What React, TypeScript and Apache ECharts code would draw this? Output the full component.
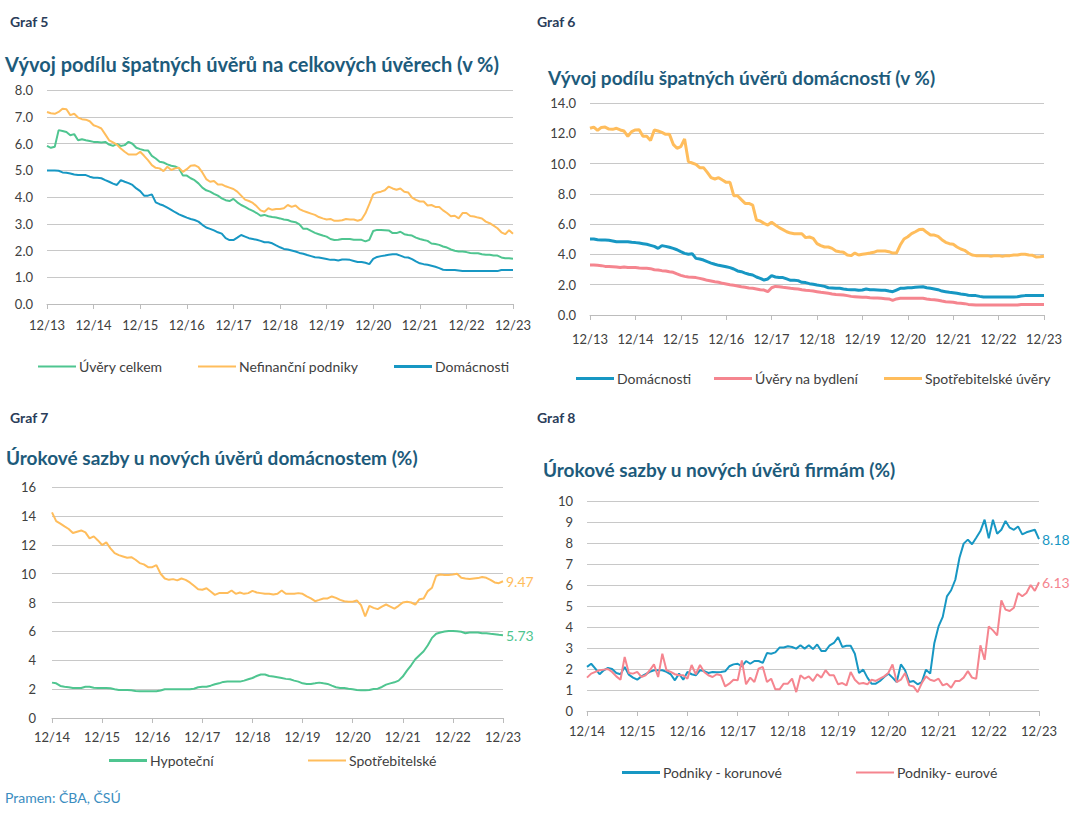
import React, { useEffect, useRef } from 'react';
import * as echarts from 'echarts';

const FONT = 'Lato, "Open Sans", sans-serif';

function monthLabels(startYear: number, count: number): string[] {
  const out: string[] = [];
  for (let i = 0; i < count; i++) {
    const m = ((11 + i) % 12) + 1;
    const y = startYear + Math.floor((11 + i) / 12);
    out.push(String(m).padStart(2, '0') + '/' + String(y % 100).padStart(2, '0'));
  }
  return out;
}

// Graf 5 / Graf 6: 12/2013 .. 12/2023 (monthly)
const months13 = monthLabels(2013, 121);
// Graf 7 / Graf 8: 12/2014 .. 12/2023 (monthly)
const months14 = monthLabels(2014, 109);

// ---- Graf 5 ----
const g5Total = [5.91,5.84,5.88,6.50,6.47,6.43,6.31,6.35,6.12,6.16,6.12,6.09,
 6.06,6.06,6.04,6.06,5.96,5.91,5.99,5.91,5.94,6.06,5.99,5.84,
 5.79,5.75,5.74,5.54,5.44,5.32,5.29,5.22,5.17,5.14,5.07,4.80,
 4.80,4.70,4.63,4.51,4.35,4.25,4.20,4.12,4.05,3.95,3.88,3.85,
 3.93,3.80,3.70,3.63,3.55,3.48,3.40,3.30,3.33,3.28,3.25,3.23,
 3.20,3.16,3.14,3.08,3.06,2.98,2.81,2.81,2.73,2.66,2.61,2.56,
 2.52,2.43,2.39,2.40,2.43,2.43,2.43,2.40,2.40,2.40,2.34,2.40,
 2.73,2.77,2.77,2.76,2.75,2.65,2.65,2.70,2.61,2.58,2.56,2.48,
 2.43,2.39,2.36,2.26,2.24,2.21,2.15,2.11,2.04,1.99,1.96,1.96,
 1.94,1.91,1.90,1.90,1.86,1.84,1.84,1.81,1.81,1.74,1.71,1.71,
 1.69];
const g5Corp = [7.18,7.13,7.11,7.18,7.30,7.28,7.06,7.11,6.97,6.91,6.89,6.83,
 6.68,6.63,6.56,6.34,6.12,6.04,5.96,5.81,5.69,5.59,5.59,5.59,
 5.69,5.54,5.38,5.19,5.09,5.07,4.97,5.13,5.01,5.07,5.09,4.94,
 5.04,5.17,5.19,5.12,4.92,4.67,4.57,4.60,4.47,4.47,4.40,4.35,
 4.30,4.20,4.05,3.90,3.85,3.78,3.65,3.50,3.45,3.58,3.52,3.55,
 3.55,3.58,3.70,3.63,3.68,3.55,3.48,3.43,3.38,3.33,3.25,3.20,
 3.16,3.18,3.11,3.11,3.13,3.18,3.16,3.16,3.11,3.16,3.39,3.73,
 4.10,4.17,4.20,4.25,4.39,4.32,4.27,4.32,4.20,4.17,3.98,3.89,
 3.83,3.83,3.68,3.70,3.63,3.63,3.50,3.40,3.28,3.30,3.20,3.40,
 3.40,3.29,3.27,3.23,3.20,3.08,3.02,2.93,2.83,2.68,2.61,2.76,
 2.63];
const g5House = [4.99,4.99,4.99,4.98,4.92,4.91,4.88,4.84,4.82,4.82,4.82,4.76,
 4.72,4.72,4.70,4.63,4.57,4.50,4.45,4.63,4.57,4.52,4.45,4.32,
 4.22,4.05,4.05,4.10,3.80,3.73,3.68,3.60,3.52,3.43,3.35,3.29,
 3.23,3.18,3.14,3.08,2.96,2.86,2.81,2.75,2.68,2.63,2.46,2.39,
 2.39,2.48,2.58,2.52,2.46,2.43,2.40,2.36,2.31,2.31,2.27,2.19,
 2.12,2.06,2.04,2.00,1.96,1.91,1.88,1.83,1.79,1.75,1.74,1.71,
 1.68,1.65,1.65,1.63,1.66,1.66,1.65,1.61,1.57,1.57,1.54,1.49,
 1.69,1.76,1.79,1.81,1.84,1.86,1.86,1.81,1.75,1.74,1.68,1.59,
 1.52,1.49,1.47,1.43,1.39,1.34,1.28,1.27,1.27,1.27,1.25,1.23,
 1.23,1.23,1.23,1.23,1.23,1.23,1.23,1.23,1.23,1.27,1.27,1.27,
 1.27];

// ---- Graf 6 ----
const g6House = [5.02,5.02,4.97,4.95,4.95,4.93,4.89,4.84,4.84,4.84,4.84,4.80,
 4.78,4.75,4.71,4.67,4.60,4.53,4.40,4.58,4.53,4.47,4.40,4.31,
 4.18,4.07,4.01,4.05,3.74,3.70,3.63,3.52,3.43,3.35,3.28,3.24,
 3.19,3.13,3.04,2.91,2.86,2.77,2.69,2.64,2.51,2.42,2.31,2.38,
 2.60,2.51,2.47,2.47,2.38,2.29,2.29,2.27,2.16,2.14,2.07,2.03,
 1.98,1.94,1.89,1.80,1.78,1.76,1.76,1.72,1.69,1.67,1.67,1.63,
 1.65,1.72,1.67,1.67,1.65,1.63,1.63,1.58,1.54,1.65,1.76,1.76,
 1.80,1.80,1.83,1.85,1.87,1.80,1.76,1.72,1.67,1.58,1.54,1.50,
 1.47,1.43,1.39,1.36,1.30,1.28,1.28,1.23,1.19,1.19,1.19,1.19,
 1.19,1.19,1.19,1.19,1.19,1.21,1.25,1.28,1.28,1.28,1.28,1.28,
 1.28];
const g6Mort = [3.30,3.30,3.28,3.26,3.21,3.21,3.19,3.17,3.13,3.17,3.13,3.13,
 3.13,3.10,3.08,3.08,3.06,2.99,2.97,2.93,2.91,2.86,2.82,2.71,
 2.62,2.55,2.51,2.49,2.47,2.42,2.36,2.29,2.25,2.20,2.16,2.09,
 2.05,2.00,1.96,1.92,1.87,1.83,1.78,1.76,1.72,1.67,1.65,1.54,
 1.80,1.89,1.87,1.83,1.80,1.76,1.74,1.72,1.67,1.63,1.61,1.58,
 1.54,1.50,1.47,1.43,1.39,1.36,1.34,1.32,1.28,1.23,1.21,1.19,
 1.17,1.17,1.14,1.12,1.12,1.10,1.08,1.06,0.97,1.06,1.10,1.10,
 1.10,1.10,1.10,1.10,1.10,1.06,1.03,1.01,0.97,0.92,0.88,0.86,
 0.84,0.79,0.77,0.75,0.70,0.68,0.66,0.66,0.66,0.66,0.66,0.66,
 0.66,0.66,0.66,0.66,0.66,0.66,0.70,0.70,0.70,0.70,0.70,0.70,
 0.70];
const g6Cons = [12.33,12.41,12.19,12.39,12.41,12.28,12.26,12.33,12.22,12.15,11.80,12.11,
 12.22,12.24,11.80,11.80,11.53,12.22,12.15,12.06,11.93,11.93,11.27,11.01,
 11.12,11.62,10.13,10.04,9.95,9.73,9.73,9.42,9.07,8.98,9.07,8.91,
 8.76,8.76,7.88,7.88,7.62,7.37,7.37,7.26,6.27,6.21,6.05,5.94,
 6.12,5.94,5.77,5.64,5.50,5.41,5.37,5.37,5.37,5.11,5.15,5.06,
 4.71,4.58,4.49,4.49,4.40,4.23,4.18,4.14,3.96,3.92,4.09,3.96,
 4.01,4.05,4.09,4.14,4.23,4.23,4.23,4.18,4.09,4.09,4.62,5.02,
 5.17,5.37,5.50,5.64,5.66,5.46,5.28,5.28,5.19,4.97,4.80,4.71,
 4.67,4.49,4.36,4.27,4.09,3.96,3.92,3.92,3.92,3.92,3.87,3.92,
 3.92,3.87,3.92,3.92,3.96,3.96,4.01,4.01,3.96,3.94,3.83,3.85,
 3.88];

// ---- Graf 7 ----
const g7Mort = [2.45,2.40,2.22,2.17,2.13,2.08,2.08,2.08,2.17,2.17,2.10,2.08,
 2.08,2.08,2.06,1.99,1.94,1.94,1.94,1.92,1.87,1.85,1.85,1.85,
 1.85,1.85,1.90,1.99,1.99,1.99,1.99,1.99,1.99,1.99,2.03,2.13,
 2.17,2.17,2.24,2.34,2.40,2.50,2.52,2.52,2.52,2.52,2.59,2.68,
 2.77,2.91,3.01,3.01,2.91,2.87,2.82,2.77,2.71,2.68,2.59,2.52,
 2.40,2.36,2.36,2.40,2.45,2.40,2.36,2.24,2.13,2.08,2.08,2.03,
 1.99,1.94,1.92,1.92,1.94,2.01,2.03,2.15,2.31,2.40,2.47,2.59,
 2.87,3.28,3.65,4.07,4.35,4.62,5.04,5.55,5.83,5.92,5.99,6.03,
 6.03,6.01,5.97,5.87,5.92,5.92,5.92,5.87,5.87,5.83,5.80,5.76,
 5.73];
const g7Cons = [14.24,13.64,13.46,13.27,13.09,12.81,12.90,12.99,12.86,12.44,12.58,12.30,
 11.98,12.16,11.75,11.42,11.28,11.19,11.10,11.14,10.96,10.73,10.64,10.45,
 10.45,10.59,9.99,9.66,9.57,9.62,9.53,9.66,9.57,9.39,9.16,8.92,
 8.88,8.99,8.76,8.53,8.65,8.65,8.65,8.83,8.60,8.69,8.60,8.65,
 8.81,8.69,8.65,8.60,8.60,8.55,8.60,8.83,8.60,8.60,8.60,8.65,
 8.60,8.42,8.28,8.09,8.18,8.28,8.28,8.42,8.32,8.18,8.09,8.05,
 8.05,8.14,7.82,7.03,7.77,7.63,7.54,7.72,7.86,7.72,7.58,7.77,
 8.00,8.05,8.00,7.86,8.23,8.28,8.79,9.02,9.85,9.94,9.90,9.90,
 9.94,9.99,9.71,9.66,9.62,9.66,9.69,9.76,9.71,9.57,9.39,9.34,
 9.47];

// ---- Graf 8 ----
const g8Czk = [2.10,2.25,2.02,1.75,1.94,2.05,2.00,1.81,1.75,2.10,1.73,1.59,
 1.49,1.65,1.75,1.86,1.94,1.94,1.94,1.86,1.75,1.46,1.78,1.49,
 1.86,1.75,1.70,1.94,1.90,1.81,1.86,1.84,1.86,1.89,2.13,2.22,
 2.25,2.13,2.38,2.25,2.38,2.38,2.29,2.76,2.73,2.79,3.02,3.02,
 3.08,3.05,2.97,3.13,2.97,3.13,2.95,3.17,2.86,2.86,3.13,3.24,
 3.52,3.05,3.11,3.11,2.73,1.81,1.97,1.59,1.30,1.30,1.43,1.62,
 1.78,1.59,1.38,2.22,1.94,1.38,1.43,1.27,1.38,1.97,1.78,3.24,
 4.03,4.48,5.46,5.75,6.25,7.30,7.97,8.16,7.94,8.25,8.57,9.11,
 8.22,9.11,8.44,8.63,9.05,8.73,8.63,8.79,8.41,8.51,8.57,8.63,
 8.18];
const g8Eur = [1.59,1.78,1.86,1.94,1.97,2.00,1.86,1.65,1.49,2.57,1.81,1.78,
 1.86,1.62,1.70,1.94,2.22,1.62,2.73,1.94,1.86,1.75,1.70,1.70,
 1.54,2.19,1.75,2.19,1.86,1.70,1.62,1.75,1.70,1.17,1.30,1.49,
 1.46,2.41,1.27,1.59,1.38,2.02,2.10,1.38,1.54,1.03,1.03,1.30,
 1.30,1.54,0.90,1.70,1.54,1.65,1.43,1.75,1.59,1.94,1.70,1.70,
 1.27,1.33,1.22,1.86,1.49,1.30,1.33,1.27,1.49,1.43,1.54,1.65,
 1.81,2.22,1.38,1.49,1.81,1.22,1.17,0.90,1.33,1.65,1.49,1.43,
 1.54,1.22,1.30,1.11,1.43,1.43,1.59,1.90,1.59,1.54,3.13,2.44,
 4.03,3.84,3.60,5.27,4.83,4.76,4.92,5.62,5.46,5.62,6.00,5.72,
 6.13];

const GREEN = '#4fc590';
const ORANGE = '#ffbd5c';
const BLUE = '#1797c3';
const PINK = '#f5858f';
const GRID = '#c8c8c8';
const AXIS = '#bcbcbc';
const LABEL = '#404040';
const TITLE = '#1d5b7b';
const GRAF = '#2a3d5a';

function xAxis(idx: number, data: string[], margin: number) {
  return {
    type: 'category', gridIndex: idx, data, boundaryGap: false,
    axisLine: { show: true, lineStyle: { color: AXIS, width: 1 } },
    axisTick: { show: true, interval: 11, length: 5, lineStyle: { color: AXIS, width: 1 } },
    axisLabel: { interval: 11, color: LABEL, fontSize: 13, fontFamily: FONT, margin },
    splitLine: { show: false },
  };
}
function yAxis(idx: number, max: number, interval: number, decimals: number, margin: number) {
  return {
    type: 'value', gridIndex: idx, min: 0, max, interval,
    axisLine: { show: false }, axisTick: { show: false },
    axisLabel: { color: LABEL, fontSize: 13, fontFamily: FONT, margin, formatter: (v: number) => v.toFixed(decimals) },
    splitLine: { show: true, lineStyle: { color: GRID, width: 1 } },
  };
}
function line(name: string, idx: number, data: number[], color: string, width: number, endLabel = false) {
  const s: any = {
    name, type: 'line', xAxisIndex: idx, yAxisIndex: idx, data,
    symbol: 'none', smooth: false,
    lineStyle: { color, width }, itemStyle: { color },
  };
  if (endLabel) {
    s.endLabel = { show: true, formatter: (p: any) => Number(p.value).toFixed(2), color, fontSize: 14, fontFamily: FONT, distance: 3 };
  }
  return s;
}
function legendItem(name: string, left: number, centerY: number, thick: number) {
  return {
    data: [name], left, top: centerY - 8.5, icon: 'rect', itemWidth: 38, itemHeight: thick, padding: 0, itemGap: 0,
    selectedMode: false, formatter: (n: string) => n.replace(/ \(\d\)$/, ''),
    textStyle: { color: LABEL, fontSize: 14, fontFamily: FONT, padding: [0, 0, 0, -2] },
  };
}
function text(x: number, y: number, t: string, size: number, color: string, bold: boolean) {
  return { type: 'text', x, y, style: { text: t, fill: color, fontSize: size, fontFamily: FONT, fontWeight: bold ? 'bold' : 'normal', verticalAlign: 'middle', align: 'left' } };
}

export default function App() {
  const ref = useRef<HTMLDivElement>(null);
  useEffect(() => {
    const chart = echarts.init(ref.current!, null, { renderer: 'svg' });
    chart.setOption({
      animation: false,
      backgroundColor: '#ffffff',
      textStyle: { fontFamily: FONT },
      grid: [
        { left: 47, top: 90, width: 466, height: 214 },
        { left: 590, top: 103, width: 454, height: 212 },
        { left: 52, top: 487, width: 451, height: 231 },
        { left: 587, top: 501, width: 452, height: 210 },
      ],
      xAxis: [xAxis(0, months13, 14), xAxis(1, months13, 17), xAxis(2, months14, 12), xAxis(3, months14, 13)],
      yAxis: [yAxis(0, 8, 1, 1, 14), yAxis(1, 14, 2, 1, 14), yAxis(2, 16, 2, 0, 16), yAxis(3, 10, 1, 0, 14)],
      legend: [
        legendItem('Úvěry celkem', 38, 368, 2),
        legendItem('Nefinanční podniky', 198, 368, 2),
        legendItem('Domácnosti', 394, 368, 3),
        legendItem('Domácnosti (6)', 576, 380, 3),
        legendItem('Úvěry na bydlení', 714, 380, 3),
        legendItem('Spotřebitelské úvěry', 884, 380, 3),
        legendItem('Hypoteční', 109, 762, 3),
        legendItem('Spotřebitelské', 308, 762, 2),
        legendItem('Podniky - korunové', 622, 774, 3),
        legendItem('Podniky- eurové', 856, 774, 2),
      ],
      series: [
        line('Úvěry celkem', 0, g5Total, GREEN, 2),
        line('Nefinanční podniky', 0, g5Corp, ORANGE, 2),
        line('Domácnosti', 0, g5House, BLUE, 2),
        line('Domácnosti (6)', 1, g6House, BLUE, 3),
        line('Úvěry na bydlení', 1, g6Mort, PINK, 3),
        line('Spotřebitelské úvěry', 1, g6Cons, ORANGE, 3),
        line('Hypoteční', 2, g7Mort, GREEN, 2, true),
        line('Spotřebitelské', 2, g7Cons, ORANGE, 2, true),
        line('Podniky - korunové', 3, g8Czk, BLUE, 2, true),
        line('Podniky- eurové', 3, g8Eur, PINK, 2, true),
      ],
      graphic: [
        text(10, 21, 'Graf 5', 14, GRAF, true),
        text(537, 21, 'Graf 6', 14, GRAF, true),
        text(10, 417, 'Graf 7', 14, GRAF, true),
        text(537, 417, 'Graf 8', 14, GRAF, true),
        text(5, 64, 'Vývoj podílu špatných úvěrů na celkových úvěrech (v %)', 20, TITLE, true),
        text(548, 77, 'Vývoj podílu špatných úvěrů domácností (v %)', 19, TITLE, true),
        text(6, 457, 'Úrokové sazby u nových úvěrů domácnostem (%)', 19, TITLE, true),
        text(543, 469, 'Úrokové sazby u nových úvěrů firmám (%)', 19, TITLE, true),
        text(5, 797, 'Pramen: ČBA, ČSÚ', 14, '#3a8dbf', false),
      ],
    });
    return () => chart.dispose();
  }, []);
  return <div ref={ref} style={{ position: 'absolute', left: 0, top: 0, width: 1080, height: 817, background: '#fff' }} />;
}
